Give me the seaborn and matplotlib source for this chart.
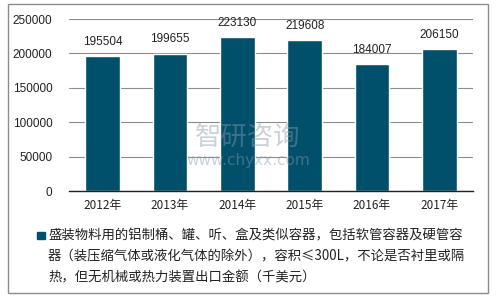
import matplotlib
matplotlib.use("Agg")
import matplotlib.pyplot as plt
import seaborn as sns
import pandas as pd
from matplotlib.patches import Rectangle

years = ["2012年", "2013年", "2014年", "2015年", "2016年", "2017年"]
values = [195504, 199655, 223130, 219608, 184007, 206150]
yticks = [0, 50000, 100000, 150000, 200000, 250000]
legend_lines = [
    "盛装物料用的铝制桶、罐、听、盒及类似容器，包括软管容器及硬管容",
    "器（装压缩气体或液化气体的除外），容积≤300L，不论是否衬里或隔",
    "热，但无机械或热力装置出口金额（千美元）",
]
bar_color = "#01506B"

sns.set_theme(style="white")
plt.rcParams["font.family"] = ["Liberation Sans", "Noto Sans CJK SC", "DejaVu Sans"]

df = pd.DataFrame({"year": years, "value": values})

fig = plt.figure(figsize=(4.96, 2.97), dpi=100)
W, H = 496, 297
ax = fig.add_axes([69 / W, 1 - 191 / H, (473 - 69) / W, (191 - 19) / H])

sns.barplot(data=df, x="year", y="value", color=bar_color, saturation=1,
            width=0.51, ax=ax)

ax.set_ylim(0, 250000)
ax.set_yticks(yticks)
ax.set_yticklabels([str(v) for v in yticks], fontsize=8.5, color="#222222")
ax.set_xlabel("")
ax.set_ylabel("")
ax.tick_params(axis="x", labelsize=8.5, colors="#222222", length=0, pad=6)
ax.tick_params(axis="y", length=0, pad=12)
for lab in ax.get_xticklabels():
    lab.set_fontfamily(["Noto Sans CJK SC", "DejaVu Sans"])
    lab.set_color("#222222")
ax.yaxis.grid(True, color="#8c8c8c", linewidth=0.8)
ax.set_axisbelow(True)
for s in ["left", "right", "top"]:
    ax.spines[s].set_visible(False)
ax.spines["bottom"].set_color("#222222")
ax.spines["bottom"].set_linewidth(1.0)

for i, v in enumerate(values):
    ax.annotate(str(v), (i, v), xytext=(0, 6), textcoords="offset points",
                ha="center", va="bottom", fontsize=8.5, color="#222222")

# watermark
fig.text(0.5, 1 - 137 / H, "智研咨询", ha="center", va="center", fontsize=19,
         color="#8a9aaa", alpha=0.45, family=["Noto Sans CJK SC"])
fig.text(0.5, 1 - 160 / H, "www.chyxx.com", ha="center", va="center",
         fontsize=11, color="#8a9aaa", alpha=0.45, family=["DejaVu Sans"])

# legend
fig.patches.append(Rectangle((37 / W, 1 - 239 / H), 8 / W, 7 / H,
                             transform=fig.transFigure, color=bar_color))
ys = [235, 256, 277]
for t, y in zip(legend_lines, ys):
    fig.text(48 / W, 1 - y / H, t, ha="left", va="center", fontsize=9.6,
             color="#222222", family=["Noto Sans CJK SC", "DejaVu Sans"])

# border
fig.patches.append(Rectangle((8 / W, 1 - 293 / H), 480 / W, 289 / H,
                             transform=fig.transFigure, fill=False,
                             edgecolor="#8c8c8c", linewidth=1.0))

fig.savefig("out.png", dpi=100)
